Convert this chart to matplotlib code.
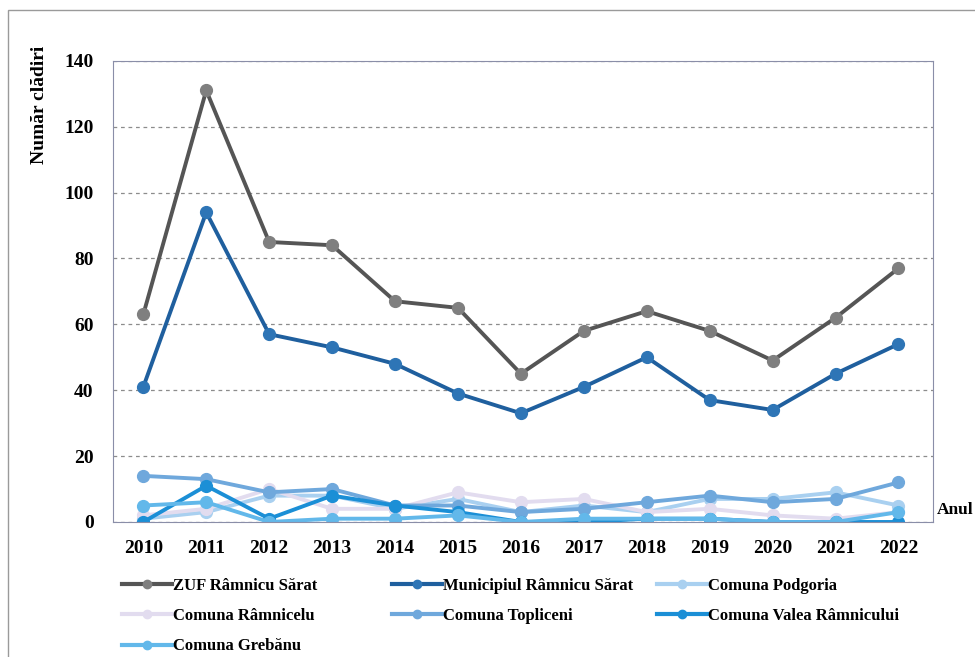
import matplotlib.pyplot as plt
from matplotlib.patches import Rectangle

# years on the x axis
years = list(range(2010, 2023))

# values
zuf = [63, 131, 85, 84, 67, 65, 45, 58, 64, 58, 49, 62, 77]
municipiul = [41, 94, 57, 53, 48, 39, 33, 41, 50, 37, 34, 45, 54]
podgoria = [1, 3, 8, 8, 4, 7, 3, 5, 3, 7, 7, 9, 5]
ramnicelu = [2, 4, 10, 4, 4, 9, 6, 7, 3, 4, 2, 1, 3]
topliceni = [14, 13, 9, 10, 5, 5, 3, 4, 6, 8, 6, 7, 12]
valea = [0, 11, 1, 8, 5, 3, 0, 0, 1, 1, 0, 0, 0]
grebanu = [5, 6, 0, 1, 1, 2, 0, 1, 1, 1, 0, 0, 3]

# name, values, line colour, marker colour
series = [
    ("ZUF Râmnicu Sărat", zuf, "#555555", "#7f7f7f"),
    ("Municipiul Râmnicu Sărat", municipiul, "#1f5f9e", "#2e75b6"),
    ("Comuna Podgoria", podgoria, "#a9d0f0", "#a9d0f0"),
    ("Comuna Râmnicelu", ramnicelu, "#e2dcef", "#e2dcef"),
    ("Comuna Topliceni", topliceni, "#6fa8dc", "#6fa8dc"),
    ("Comuna Valea Râmnicului", valea, "#1b8fd6", "#1b8fd6"),
    ("Comuna Grebănu", grebanu, "#62b8ea", "#62b8ea"),
]

serif = "Liberation Serif"

fig = plt.figure(figsize=(9.75, 6.57), dpi=100)
ax = fig.add_axes([0.116, 0.2055, 0.841, 0.702])

# outer frame of the picture
fig.patches.append(Rectangle((0.008, -0.01), 1.1, 0.995, transform=fig.transFigure,
                             fill=False, edgecolor="#9a9a9a", linewidth=1.0))

lines = []
for name, values, line_col, mark_col in series:
    ln, = ax.plot(years, values, color=line_col, linewidth=2.8, marker="o",
                  markersize=8.5, markerfacecolor=mark_col,
                  markeredgecolor=mark_col, label=name)
    lines.append(ln)

ax.set_xlim(2009.52, 2022.55)
ax.set_ylim(0, 140)
ax.set_yticks(range(0, 141, 20))
ax.set_xticks(years)
ax.yaxis.grid(True, linestyle=(0, (3, 3)), color="#8c8c8c", linewidth=0.9)
ax.set_axisbelow(True)
ax.tick_params(axis="y", length=0, pad=14)
ax.tick_params(axis="x", length=0, pad=13)
for lbl in ax.get_xticklabels() + ax.get_yticklabels():
    lbl.set_fontfamily(serif)
    lbl.set_fontsize(14)
    lbl.set_fontweight("bold")
for side in ax.spines:
    ax.spines[side].set_color("#8a8ea8")
    ax.spines[side].set_linewidth(0.8)

fig.text(0.04, 0.84, "Număr clădiri", rotation=90, ha="center", va="center",
         fontfamily=serif, fontsize=14, fontweight="bold")
fig.text(0.961, 0.223, "Anul", ha="left", va="center",
         fontfamily=serif, fontsize=12.5, fontweight="bold")

# legend in three columns, filled row by row
col_x = [0.125, 0.402, 0.674]
for c, x0 in enumerate(col_x):
    idx = list(range(c, len(lines), 3))
    leg = fig.legend([lines[i] for i in idx], [series[i][0] for i in idx],
                     loc="upper left", bbox_to_anchor=(x0, 0.12),
                     frameon=False, handlelength=3.0, handletextpad=0.05,
                     borderaxespad=0, borderpad=0, labelspacing=0.85,
                     prop={"family": serif, "size": 12, "weight": "bold"})
    for h in leg.legend_handles:
        h.set_markersize(6)
        h.set_linewidth(3)

fig.savefig("out.png", dpi=100)
